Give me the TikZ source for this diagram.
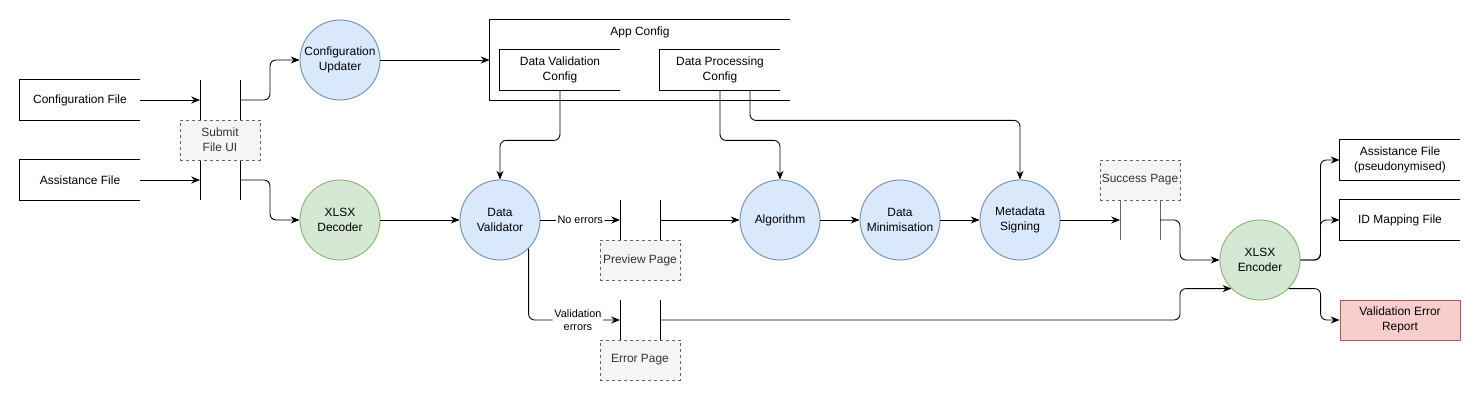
\documentclass[tikz,border=0pt]{standalone}
\usepackage{fontspec}
\setmainfont{Liberation Sans}
\usepackage{xcolor}
\usetikzlibrary{arrows.meta,positioning}
\definecolor{bluefill}{HTML}{DAE8FC}
\definecolor{bluedraw}{HTML}{6C8EBF}
\definecolor{greenfill}{HTML}{D5E8D4}
\definecolor{greendraw}{HTML}{82B366}
\definecolor{redfill}{HTML}{F8CECC}
\definecolor{reddraw}{HTML}{B85450}
\definecolor{pagefill}{HTML}{F5F5F5}
\definecolor{pagedraw}{HTML}{666666}
\definecolor{pagetext}{HTML}{333333}
\newcommand{\nfont}{\fontsize{6.8pt}{8.5pt}\selectfont}
\newcommand{\lfont}{\fontsize{6.2pt}{7.8pt}\selectfont}
\tikzset{proc/.style={circle,draw=bluedraw,fill=bluefill,minimum size=1.6cm,inner sep=0pt,align=center,font=\nfont},
  codec/.style={proc,draw=greendraw,fill=greenfill},
  store/.style={minimum width=2.4cm,minimum height=0.8cm,inner sep=0pt,align=center,font=\nfont},
  page/.style={draw=pagedraw,sharp corners,dash pattern=on 1.7pt off 1.7pt,fill=pagefill,text=pagetext,minimum width=1.6cm,minimum height=0.8cm,inner sep=0pt,align=center,font=\nfont},
  report/.style={draw=reddraw,sharp corners,fill=redfill,minimum width=2.4cm,minimum height=0.8cm,inner sep=0pt,align=center,font=\nfont},
  lbl/.style={fill=white,inner sep=1pt,align=center,font=\lfont}}

\begin{document}
\begin{tikzpicture}[x=0.02cm,y=-0.02cm,>={Stealth[length=5pt,width=4pt]},line width=0.5pt,rounded corners=0.12cm]
    \useasboundingbox (0,0) rectangle (1482,402);

    % bars of the ui steps
    \draw (200,80) -- (200,200);
    \draw (240,80) -- (240,200);
    \draw (620,200) -- (620,240);
    \draw (660,200) -- (660,240);
    \draw (620,300) -- (620,340);
    \draw (660,300) -- (660,340);
    \draw[pagedraw] (1120,200) -- (1120,240);
    \draw[pagedraw] (1160,200) -- (1160,240);
    \coordinate (subin1) at (200,100);
    \coordinate (subin2) at (200,180);
    \coordinate (subout1) at (240,100);
    \coordinate (subout2) at (240,180);
    \coordinate (previn) at (620,220);
    \coordinate (prevout) at (660,220);
    \coordinate (errin) at (620,320);
    \coordinate (errout) at (660,320);
    \coordinate (sucin) at (1120,220);
    \coordinate (sucout) at (1160,220);

    \node[store] (cfgfile)at (80,100) {Configuration File};
    \node[store] (asfile)at (80,180) {Assistance File};
    \node[page] (submitui)at (220,140) {Submit\\File UI};
    \node[proc] (cfgupd)at (340,60) {Configuration\\Updater};
    \node[codec] (xlsxdec)at (340,220) {XLSX\\Decoder};

    \node[store,minimum width=6cm,minimum height=1.6cm] (appcfg)at (640,60) {};
    \node[font=\nfont,inner sep=0pt] (appcfglbl)at (640,32) {App Config};
    \node[store] (dvcfg)at (560,70) {Data Validation\\Config};
    \node[store] (dpcfg)at (720,70) {Data Processing\\Config};

    \node[proc] (dataval)at (500,220) {Data\\Validator};
    \node[proc] (algo)at (780,220) {Algorithm};
    \node[proc] (datamin)at (900,220) {Data\\Minimisation};
    \node[proc] (metasig)at (1020,220) {Metadata\\Signing};
    \node[page] (prevpage)at (640,260) {Preview Page};
    \node[page] (errpage)at (640,360) {Error Page};
    \node[page] (sucpage)at (1140,180) {Success Page};
    \node[codec] (xlsxenc)at (1260,260) {XLSX\\Encoder};

    \node[store] (outasfile)at (1400,160) {Assistance File\\(pseudonymised)};
    \node[store] (outidmap)at (1400,220) {ID Mapping File};
    \node[report] (valrep)at (1400,320) {Validation Error\\Report};

    \foreach \n in {cfgfile,asfile,appcfg,dvcfg,dpcfg,outasfile,outidmap}
        \draw [sharp corners] (\n.north east) -- (\n.north west) -- (\n.south west) -- (\n.south east);

    \draw [->] (cfgfile.east) -- (subin1);
    \draw [->] (asfile.east) -- (subin2);
    \draw [->] (subout1) -- ++(30,0) |- (cfgupd);
    \draw [->] (subout2) -- ++(30,0) |- (xlsxdec);
    \draw [->] (cfgupd) -- (appcfg.west);
    \draw [->] (xlsxdec) -- (dataval);
    \draw [->] (dvcfg.south) -- ++(0,50) -| (dataval);
    \draw [->] (dpcfg.south) -- ++(0,50) -| (algo);
    \draw [->] ([xshift=0.6cm]dpcfg.south) -- ++(0,30) -| (metasig);
    \draw [->] (dataval) -- node[lbl]{No errors} (previn);
    \draw [->] (dataval.-45) |- node[lbl,pos=0.77]{Validation\\errors} (errin);
    \draw [->] (prevout) -- (algo);
    \draw [->] (algo) -- (datamin);
    \draw [->] (datamin) -- (metasig);
    \draw [->] (metasig) -- (sucin);
    \draw [->] (sucout) -- ++(20,0) |- (xlsxenc);
    \draw [->] (errout) -- ++(520,0) |- (xlsxenc.225);
    \draw [->] (xlsxenc.east) -- ++(20,0) |- (outasfile.west);
    \draw [->] (xlsxenc.east) -- ++(20,0) |- (outidmap.west);
    \draw [->] (xlsxenc.-45) -- ++(32,0) |- (valrep.west);
\end{tikzpicture}
\end{document}
